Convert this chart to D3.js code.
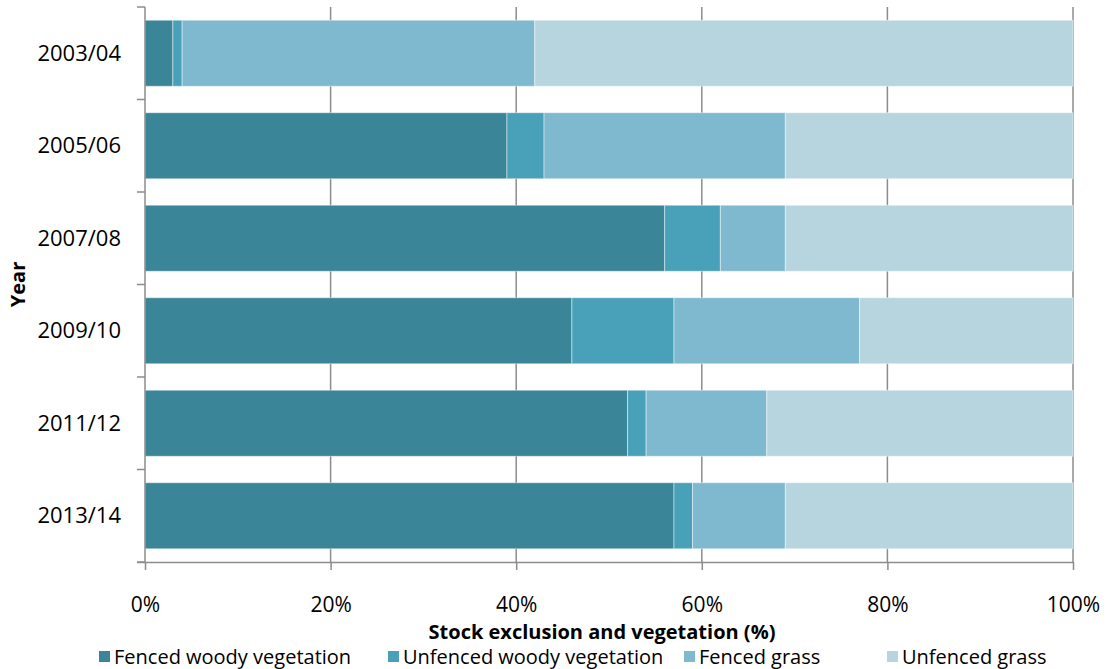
<!DOCTYPE html>
<html>
<head>
<style>
  body { margin: 0; background: #fff; }
  svg text { font-family: "Open Sans", "Noto Sans", sans-serif; fill: #000; }
</style>
<script src="https://d3js.org/d3.v7.min.js"></script>
</head>
<body>
<svg id="chart" width="1113" height="669"></svg>
<script>
// data (% of total)
const years = ['2003/04', '2005/06', '2007/08', '2009/10', '2011/12', '2013/14'];
const seriesNames = ['Fenced woody vegetation', 'Unfenced woody vegetation', 'Fenced grass', 'Unfenced grass'];
const fencedWoody   = [3, 39, 56, 46, 52, 57];
const unfencedWoody = [1, 4, 6, 11, 2, 2];
const fencedGrass   = [38, 26, 7, 20, 13, 10];
const unfencedGrass = [58, 31, 31, 23, 33, 31];
const xTicks = [0, 20, 40, 60, 80, 100];
const colors = ['#3a8598', '#48a1b8', '#7eb9cf', '#b7d5df'];

const rows = years.map((y, i) => ({
  year: y,
  'Fenced woody vegetation': fencedWoody[i],
  'Unfenced woody vegetation': unfencedWoody[i],
  'Fenced grass': fencedGrass[i],
  'Unfenced grass': unfencedGrass[i]
}));

const margin = {left: 145, right: 40, top: 7, bottom: 107};
const svg = d3.select('#chart');
const W = +svg.attr('width'), H = +svg.attr('height');

const x = d3.scaleLinear().domain([0, 100]).range([margin.left, W - margin.right]);
const y = d3.scaleBand().domain(years).range([margin.top, H - margin.bottom])
  .paddingInner(0.286).paddingOuter(0.143);

// vertical gridlines
svg.append('g')
  .selectAll('line')
  .data(xTicks.slice(1))
  .join('line')
  .attr('x1', d => x(d)).attr('x2', d => x(d))
  .attr('y1', margin.top).attr('y2', H - margin.bottom)
  .attr('stroke', '#8c8c8c').attr('stroke-width', 1.5);

const stacked = d3.stack().keys(seriesNames)(rows);

svg.append('g')
  .selectAll('g')
  .data(stacked)
  .join('g')
  .attr('fill', (d, i) => colors[i])
  .selectAll('rect')
  .data(d => d)
  .join('rect')
  .attr('x', d => x(d[0]))
  .attr('width', d => x(d[1]) - x(d[0]))
  .attr('y', d => y(d.data.year))
  .attr('height', y.bandwidth())
  .attr('stroke', '#fff').attr('stroke-opacity', 0.45).attr('stroke-width', 1);

// bottom axis
const xAxis = svg.append('g')
  .attr('transform', `translate(0,${H - margin.bottom})`)
  .call(d3.axisBottom(x).tickValues(xTicks).tickFormat(d => d + '%').tickSize(8).tickPadding(27).tickSizeOuter(0));
xAxis.select('.domain').attr('d', `M${margin.left - 8},0.5H${x(100)}`);
xAxis.selectAll('line, path').attr('stroke', '#8c8c8c').attr('stroke-width', 1.5);
xAxis.selectAll('text').style('font-size', '21px').style('font-family', '"Open Sans", sans-serif');

// left axis with ticks at band boundaries
const yAxis = svg.append('g');
yAxis.append('line')
  .attr('x1', margin.left).attr('x2', margin.left)
  .attr('y1', margin.top).attr('y2', H - margin.bottom)
  .attr('stroke', '#8c8c8c').attr('stroke-width', 1.5);
const bounds = years.map(d => y(d) - y.step() * y.paddingInner() / 2).concat([H - margin.bottom]);
yAxis.selectAll('line.tick')
  .data(bounds)
  .join('line')
  .attr('class', 'tick')
  .attr('x1', margin.left - 8).attr('x2', margin.left)
  .attr('y1', d => d).attr('y2', d => d)
  .attr('stroke', '#8c8c8c').attr('stroke-width', 1.5);
yAxis.selectAll('text')
  .data(years)
  .join('text')
  .attr('x', margin.left - 24)
  .attr('y', d => y(d) + y.bandwidth() / 2)
  .attr('dy', '0.35em')
  .attr('text-anchor', 'end')
  .style('font-size', '22px')
  .text(d => d);

// axis titles
svg.append('text')
  .attr('x', 602).attr('y', 639)
  .attr('text-anchor', 'middle')
  .style('font-size', '20px').style('font-weight', 'bold')
  .text('Stock exclusion and vegetation (%)');
svg.append('text')
  .attr('transform', `translate(25,${(margin.top + H - margin.bottom) / 2}) rotate(-90)`)
  .attr('text-anchor', 'middle')
  .style('font-size', '20px').style('font-weight', 'bold')
  .text('Year');

// legend
const legendX = [99, 388, 684, 887];
const legend = svg.append('g')
  .selectAll('g')
  .data(seriesNames)
  .join('g')
  .attr('transform', (d, i) => `translate(${legendX[i]},651)`);
legend.append('rect')
  .attr('width', 11).attr('height', 11).attr('y', 0)
  .attr('fill', (d, i) => colors[i]);
legend.append('text')
  .attr('x', 15).attr('y', 6).attr('dy', '0.35em')
  .style('font-size', '20px')
  .text(d => d);
</script>
</body>
</html>
